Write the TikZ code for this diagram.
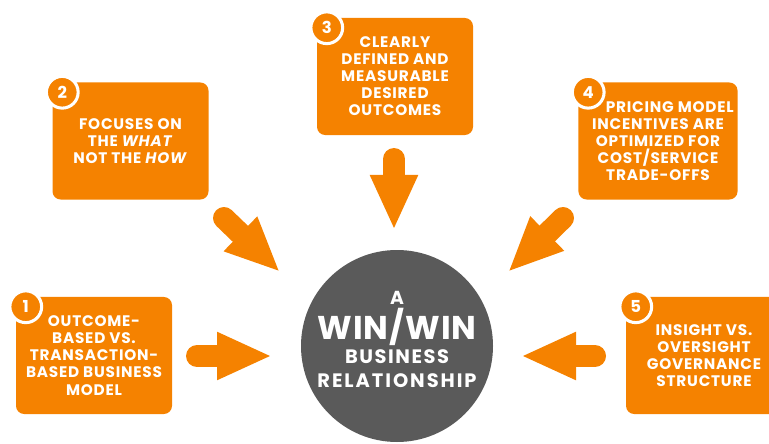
\documentclass[tikz,border=0pt]{standalone}
\usepackage{fontspec}
\setmainfont{Poppins}[BoldFont={Poppins Bold}, BoldItalicFont={Poppins Bold Italic}, LetterSpace=5]
\usetikzlibrary{arrows.meta}

\definecolor{winorange}{HTML}{F58200}
\definecolor{wingray}{HTML}{5A5A5A}

\begin{document}
\begin{tikzpicture}[x=0.85pt, y=-0.85pt,
    box/.style={rectangle, rounded corners=7pt, fill=winorange, text=white,
        minimum width=132.6pt, minimum height=99.5pt, align=center,
        font=\fontsize{13}{14.5}\selectfont\bfseries},
    badge/.style={circle, fill=winorange, draw=white, line width=2.6pt,
        minimum size=27pt, inner sep=0pt, text=white,
        font=\fontsize{14}{14}\selectfont\bfseries},
    bigarrow/.style={winorange, line width=18.7pt, line cap=round,
        -{Triangle[width=37.4pt, length=46.75pt]}},
    hubtext/.style={text=white, anchor=base, inner sep=0pt}]
    \useasboundingbox (0,0) rectangle (769,444);

    % the hub in the middle
    \node[circle, fill=wingray, minimum size=163.2pt, inner sep=0pt] (hub) at (397,346) {};
    \node[hubtext, font=\fontsize{16}{16}\selectfont\bfseries] (hubA) at (397,304) {A};
    \node[hubtext, font=\fontsize{28}{28}\selectfont\bfseries\addfontfeatures{LetterSpace=3}] (hubWin) at (397,339) {WIN/WIN};
    \node[hubtext, font=\fontsize{16.5}{16}\selectfont\bfseries\addfontfeatures{LetterSpace=8}] (hubBus) at (397,363) {BUSINESS};
    \node[hubtext, font=\fontsize{16.5}{16}\selectfont\bfseries\addfontfeatures{LetterSpace=10}] (hubRel) at (397,387) {RELATIONSHIP};

    % the five principles
    \node[box] (box1) at (94,355.5) {OUTCOME-\\BASED VS.\\TRANSACTION-\\BASED BUSINESS\\MODEL};
    \node[box] (box2) at (130.5,141) {FOCUSES ON\\THE \textit{WHAT}\\NOT THE \textit{HOW}};
    \node[box] (box3) at (395,76.5) {CLEARLY\\DEFINED AND\\MEASURABLE\\DESIRED\\OUTCOMES};
    \node[box] (box4) at (658,141) {\hspace*{20pt}PRICING MODEL\\INCENTIVES ARE\\OPTIMIZED FOR\\COST/SERVICE\\TRADE-OFFS};
    \node[box] (box5) at (704,355.5) {INSIGHT VS.\\OVERSIGHT\\GOVERNANCE\\STRUCTURE};

    % numbered badges on the top left corners
    \foreach \i in {1,...,5} {
        \node[badge] (num\i) at ([shift={(10,10)}]box\i.north west) {\i};
    }

    % block arrows pointing at the hub
    \foreach \i/\tx/\ty/\hx/\hy in {1/197/356/272/356, 2/224/218/280/272,
            3/394/159/394/230, 4/563/218/508/272, 5/595/356/521/356} {
        \coordinate (tail\i) at (\tx,\ty);
        \coordinate (tip\i) at (\hx,\hy);
        \draw[bigarrow] (tail\i) -- (tip\i);
    }
\end{tikzpicture}
\end{document}
